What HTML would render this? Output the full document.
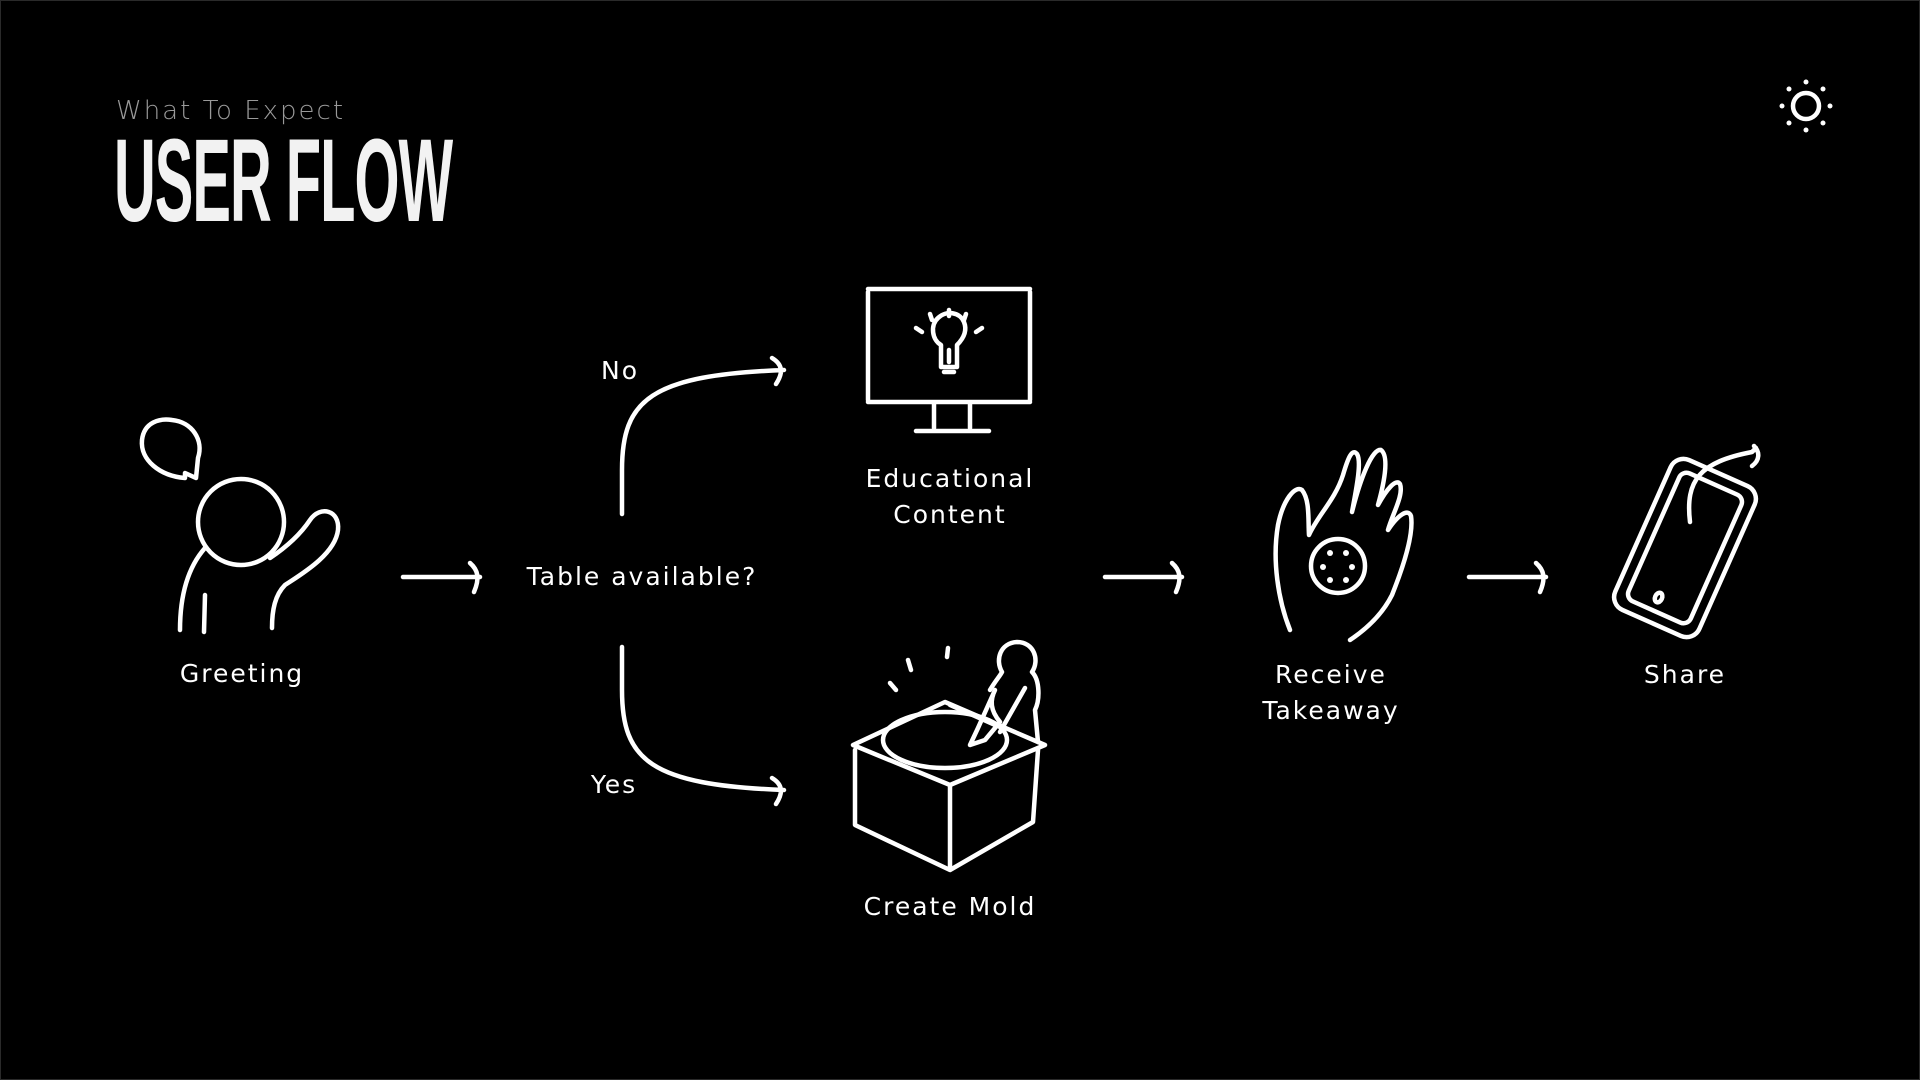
<!DOCTYPE html>
<html><head><meta charset="utf-8"><style>
html,body{margin:0;padding:0;background:#000;}
body{width:1920px;height:1080px;position:relative;overflow:hidden;font-family:"DejaVu Sans","Liberation Sans",sans-serif;}
.frame{position:absolute;left:0;top:0;width:1918px;height:1078px;border:1px solid #2a2a2a;}
.sub{position:absolute;left:116px;top:96px;font-size:26px;color:#9a9a9a;letter-spacing:2px;font-weight:300;}
.title{position:absolute;left:114px;top:122px;font-family:"Liberation Sans Narrow","Liberation Sans",sans-serif;font-weight:700;font-size:118px;color:#f2f2f2;transform:scaleX(0.49);transform-origin:left top;line-height:1;white-space:nowrap;letter-spacing:-2px;}
.lbl{position:absolute;color:#fff;font-size:25px;letter-spacing:2px;text-align:center;line-height:36px;transform:translateX(-50%);white-space:nowrap;}
svg{position:absolute;left:0;top:0;}
</style></head><body>
<div class="frame"></div>
<div class="sub">What To Expect</div>
<div class="title">USER FLOW</div>
<svg width="1920" height="1080" viewBox="0 0 1920 1080" fill="none" stroke="#fff" stroke-width="4.5" stroke-linecap="round" stroke-linejoin="round">
<!-- sun -->
<circle cx="1806" cy="106" r="13"/>
<g fill="#fff" stroke="none">
<circle cx="1806" cy="82" r="2.5"/><circle cx="1806" cy="130" r="2.5"/><circle cx="1782" cy="106" r="2.5"/><circle cx="1830" cy="106" r="2.5"/>
<circle cx="1789" cy="89" r="2.5"/><circle cx="1823" cy="89" r="2.5"/><circle cx="1789" cy="123" r="2.5"/><circle cx="1823" cy="123" r="2.5"/>
</g>
<!-- greeting -->
<path d="M185 478 C160 476 140 460 142 440 C144 422 160 418 172 420 C192 422 204 440 198 458 L196 478 L185 473 Z"/>
<circle cx="241" cy="522" r="43"/>
<path d="M205 548 C190 565 180 590 180 630"/>
<path d="M205 595 L204 632"/>
<path d="M270 558 C285 548 300 535 310 520 C320 505 340 510 338 530 C335 555 300 575 285 585 C275 595 272 610 272 628"/>
<!-- arrows -->
<path d="M403 577 L480 577 M470 563 C478 570 480 578 474 592"/>
<path d="M1105 577 L1182 577 M1172 563 C1180 570 1182 578 1176 592"/>
<path d="M1469 577 L1546 577 M1536 563 C1544 570 1546 578 1540 592"/>
<!-- No / Yes branches -->
<path d="M622 514 L622 470 C622 400 650 375 784 370 M772 358 C782 364 784 372 776 384"/>
<path d="M622 647 L622 690 C622 760 650 785 784 790 M772 778 C782 784 784 792 776 804"/>
<!-- monitor -->
<path d="M868 289 L1030 289 M868 292 L868 400 M1030 292 L1030 400 M868 402 L1030 402"/>
<path d="M934 404 L934 428 M970 404 L970 428 M916 431 L989 431"/>
<path d="M941 367 L941 345 C932 340 930 325 938 318 C946 310 960 312 964 322 C968 332 962 340 957 345 L957 367 Z"/>
<path d="M944 372 L954 372 M949 350 L949 362"/>
<path d="M916 328 L922 332 M930 314 L932 320 M949 310 L949 316 M966 314 L964 320 M982 328 L976 332"/>
<!-- create mold -->
<path d="M853 745 L945 702 L1045 745 L950 785 Z"/>
<path d="M855 750 L855 825 L950 870 L1033 822 L1038 750 M950 785 L950 868"/>
<ellipse cx="945" cy="740" rx="62" ry="28"/>
<path d="M990 690 C996 680 1000 676 1002 672 C995 660 1000 643 1017 642 C1034 642 1040 660 1032 672 C1040 680 1040 700 1035 710 L1038 742"/>
<path d="M995 690 C990 700 990 710 1000 722 L985 740 L970 745 L978 728 Z"/>
<path d="M950 705 L995 725 M1025 688 L1000 732"/>
<path d="M890 683 L896 690 M908 660 L911 670 M948 648 L947 657"/>
<!-- hand -->
<path d="M1290 630 C1278 600 1272 560 1278 525 C1283 500 1295 485 1302 490 C1310 500 1308 520 1309 535 C1318 515 1335 500 1343 475 C1348 458 1352 448 1357 454 C1362 462 1356 490 1352 512 C1360 480 1372 448 1381 450 C1389 456 1385 480 1378 505 C1386 490 1396 478 1400 484 C1404 495 1392 515 1388 530 C1398 515 1408 508 1411 516 C1414 535 1402 570 1392 595 C1382 615 1365 630 1350 640"/>
<circle cx="1338" cy="566" r="27"/>
<g fill="#fff" stroke="none"><circle cx="1330" cy="553" r="3"/><circle cx="1346" cy="553" r="3"/><circle cx="1323" cy="567" r="3"/><circle cx="1352" cy="567" r="3"/><circle cx="1330" cy="580" r="3"/><circle cx="1346" cy="580" r="3"/></g>
<!-- phone -->
<g transform="translate(1685 548) rotate(24)">
<rect x="-46" y="-82" width="92" height="164" rx="14"/>
<rect x="-34" y="-70" width="68" height="140" rx="8"/>
<ellipse cx="-4" cy="56" rx="3.5" ry="5"/>
</g>
<path d="M1690 522 C1685 480 1700 462 1752 452 M1754 446 C1760 452 1760 460 1752 466 M1752 452 L1756 448"/>
</svg>
<div class="lbl" style="left:242px;top:656px;">Greeting</div>
<div class="lbl" style="left:642px;top:559px;">Table available?</div>
<div class="lbl" style="left:620px;top:353px;">No</div>
<div class="lbl" style="left:614px;top:767px;">Yes</div>
<div class="lbl" style="left:950px;top:461px;">Educational<br>Content</div>
<div class="lbl" style="left:950px;top:889px;">Create Mold</div>
<div class="lbl" style="left:1331px;top:657px;">Receive<br>Takeaway</div>
<div class="lbl" style="left:1685px;top:657px;">Share</div>
</body></html>
